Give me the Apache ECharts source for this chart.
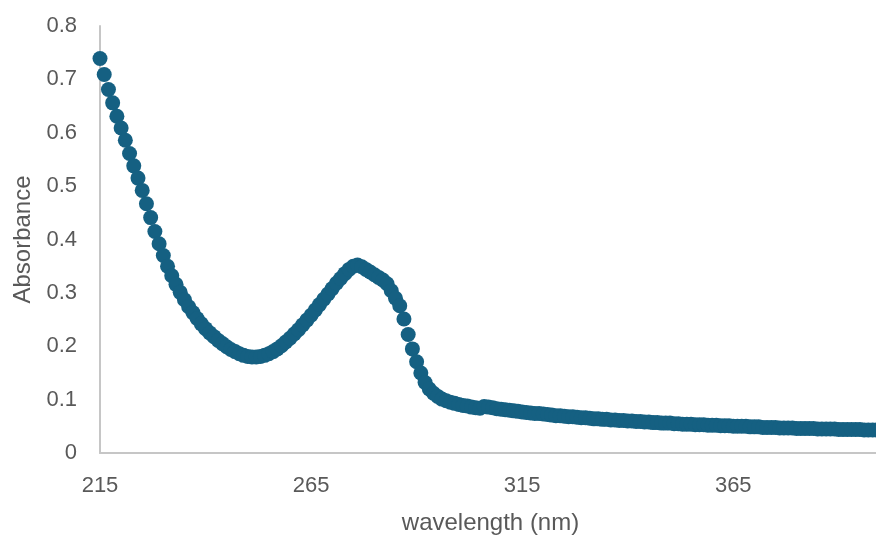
<!DOCTYPE html>
<html>
<head>
<meta charset="utf-8">
<script src="https://cdn.jsdelivr.net/npm/echarts@6/dist/echarts.min.js"></script>
<style>html,body{margin:0;padding:0;background:#fff}#c{width:876px;height:537px}</style>
</head>
<body>
<div id="c"></div>
<script>
const wavelengths = [
215,216,217,218,219,220,221,222,223,224,225,226,227,228,229,230,231,232,233,234,
235,236,237,238,239,240,241,242,243,244,245,246,247,248,249,250,251,252,253,254,
255,256,257,258,259,260,261,262,263,264,265,266,267,268,269,270,271,272,273,274,
275,276,277,278,279,280,281,282,283,284,285,286,287,288,289,290,291,292,293,294,
295,296,297,298,299,300,301,302,303,304,305,306,307,308,309,310,311,312,313,314,
315,316,317,318,319,320,321,322,323,324,325,326,327,328,329,330,331,332,333,334,
335,336,337,338,339,340,341,342,343,344,345,346,347,348,349,350,351,352,353,354,
355,356,357,358,359,360,361,362,363,364,365,366,367,368,369,370,371,372,373,374,
375,376,377,378,379,380,381,382,383,384,385,386,387,388,389,390,391,392,393,394,
395,396,397,398,399,400];
const absorbance = [
0.739,0.709,0.681,0.656,0.631,0.609,0.586,0.561,0.538,0.515,0.492,0.467,0.441,0.415,0.392,0.370,0.350,0.332,0.316,0.301,
0.287,0.274,0.263,0.252,0.242,0.233,0.225,0.218,0.211,0.205,0.199,0.194,0.190,0.186,0.183,0.181,0.180,0.180,0.181,0.183,
0.186,0.190,0.195,0.201,0.208,0.215,0.223,0.231,0.240,0.249,0.258,0.268,0.278,0.288,0.298,0.308,0.318,0.327,0.336,0.344,
0.350,0.352,0.349,0.344,0.339,0.334,0.329,0.324,0.317,0.304,0.290,0.276,0.251,0.222,0.195,0.171,0.150,0.132,0.120,0.112,
0.106,0.101,0.098,0.095,0.093,0.091,0.089,0.088,0.086,0.085,0.084,0.087,0.086,0.085,0.083,0.082,0.081,0.080,0.079,0.078,
0.077,0.076,0.075,0.074,0.074,0.073,0.072,0.071,0.070,0.070,0.069,0.068,0.068,0.067,0.066,0.066,0.065,0.064,0.064,0.063,
0.063,0.062,0.062,0.061,0.061,0.060,0.060,0.059,0.059,0.058,0.058,0.057,0.057,0.056,0.056,0.056,0.055,0.055,0.054,0.054,
0.054,0.053,0.053,0.053,0.052,0.052,0.052,0.051,0.051,0.051,0.050,0.050,0.050,0.050,0.049,0.049,0.049,0.048,0.048,0.048,
0.048,0.047,0.047,0.047,0.047,0.046,0.046,0.046,0.046,0.046,0.045,0.045,0.045,0.045,0.045,0.044,0.044,0.044,0.044,0.044,
0.044,0.043,0.043,0.043,0.043,0.043];
const xTickLabels = [215, 265, 315, 365];
const yTickLabels = [0, 0.1, 0.2, 0.3, 0.4, 0.5, 0.6, 0.7, 0.8];

const points = wavelengths.map((w, i) => [w, absorbance[i]]);
const font = 'Liberation Sans';
const chart = echarts.init(document.getElementById('c'), null, {renderer: 'canvas'});
chart.setOption({
  animation: false,
  backgroundColor: '#ffffff',
  grid: {left: 100, right: -5, top: 26, bottom: 84, containLabel: false, outerBoundsMode: 'none'},
  xAxis: {
    type: 'value', min: xTickLabels[0], max: 400, interval: 50,
    name: 'wavelength (nm)', nameLocation: 'middle', nameGap: 58,
    nameTextStyle: {color: '#595959', fontSize: 24, fontFamily: font},
    axisLine: {show: true, onZero: false, lineStyle: {color: '#c6c6c6', width: 2}},
    axisTick: {show: false},
    splitLine: {show: false},
    axisLabel: {color: '#595959', fontSize: 22, fontFamily: font, margin: 22, showMaxLabel: false,
      formatter: v => xTickLabels.includes(v) ? String(v) : ''}
  },
  yAxis: {
    type: 'value', min: yTickLabels[0], max: yTickLabels[yTickLabels.length - 1], interval: 0.1,
    name: 'Absorbance', nameLocation: 'middle', nameGap: 64, nameRotate: 90,
    nameTextStyle: {color: '#595959', fontSize: 24, fontFamily: font},
    axisLine: {show: true, lineStyle: {color: '#c6c6c6', width: 2}},
    axisTick: {show: false},
    splitLine: {show: false},
    axisLabel: {color: '#595959', fontSize: 22, fontFamily: font, margin: 23,
      formatter: v => String(Math.round(v * 10) / 10)}
  },
  series: [{
    type: 'scatter',
    data: points,
    symbol: 'circle',
    symbolSize: 15,
    clip: false,
    itemStyle: {color: '#156082', opacity: 1}
  }]
});
</script>
</body>
</html>
